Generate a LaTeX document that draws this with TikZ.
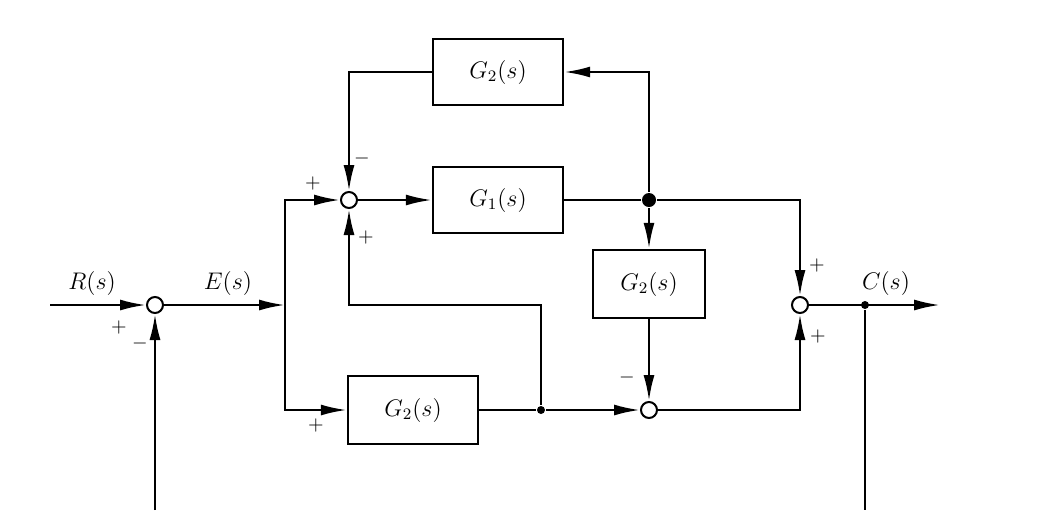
\documentclass[tikz,border=0pt]{standalone}
\usetikzlibrary{arrows.meta}
\tikzset{
	block/.style={draw,line width=1.2pt,minimum width=65pt,minimum height=33pt,font=\large},
	sumnode/.style={draw,circle,fill=white,inner sep=0pt,minimum size=8pt,line width=1pt},
	dotnode/.style={fill,circle,inner sep=0pt,minimum size=#1},
	sig/.style={-{Latex[length=13pt,width=5.5pt]}},
	sgn/.style={inner sep=1pt}
}
\begin{document}
\begin{tikzpicture}[x=0.5pt,y=-0.5pt,line width=1.2pt]
\useasboundingbox (0,0) rectangle (1050,510);

\node[sumnode] (s1) at (155,305) {};
\node[sumnode] (s2) at (349,200) {};
\node[sumnode] (s3) at (649,410) {};
\node[sumnode] (s4) at (800,305) {};

\node[block] (g2a) at (498,72) {$G_2(s)$};
\node[block] (g1) at (498,200) {$G_1(s)$};
\node[block,minimum width=56pt,minimum height=34pt] (g2b) at (649,284) {$G_2(s)$};
\node[block,minimum height=34pt] (g2c) at (413,410) {$G_2(s)$};

\node[dotnode=7pt] (d1) at (649,200) {};
\node[dotnode=4pt] (d2) at (541,410) {};
\node[dotnode=4pt] (d3) at (865,305) {};

\coordinate (rin) at (50,305);
\coordinate (br) at (285,305);
\coordinate (cout) at (940,305);
\coordinate (fb1) at (155,510);
\coordinate (fb2) at (865,510);

\draw[sig] (rin) -- (s1);
\draw[sig] (s1) -- (br);
\draw[sig] (br) |- (s2);
\draw[sig] (br) |- (g2c);
\draw[sig] (s2) -- (g1);
\draw (g1) -- (d1);
\draw[sig] (d1) |- (g2a);
\draw[sig] (g2a) -| (s2);
\draw[sig] (d1) -- (g2b);
\draw[sig] (d1) -| (s4);
\draw[sig] (g2b) -- (s3);
\draw (g2c) -- (d2);
\draw[sig] (d2) -- (s3);
\draw[sig] (d2) |- (s2 |- br) -- (s2);
\draw[sig] (s3) -| (s4);
\draw[sig] (s4) -- (cout);
\draw (d3) -- (fb2);
\draw[sig] (fb1) -- (s1);

\node[font=\large] (rlab) at (92,283) {$R(s)$};
\node[font=\large] (elab) at (228,283) {$E(s)$};
\node[font=\large] (clab) at (886,283) {$C(s)$};

\node[sgn] (p1) at (119,327) {$+$};
\node[sgn] (m1) at (140,343) {$-$};
\node[sgn] (p2) at (313,183) {$+$};
\node[sgn] (m2) at (362,158) {$-$};
\node[sgn] (p3) at (366,237) {$+$};
\node[sgn] (p4) at (316,425) {$+$};
\node[sgn] (m3) at (627,377) {$-$};
\node[sgn] (p5) at (817,265) {$+$};
\node[sgn] (p6) at (818,336) {$+$};
\end{tikzpicture}
\end{document}
